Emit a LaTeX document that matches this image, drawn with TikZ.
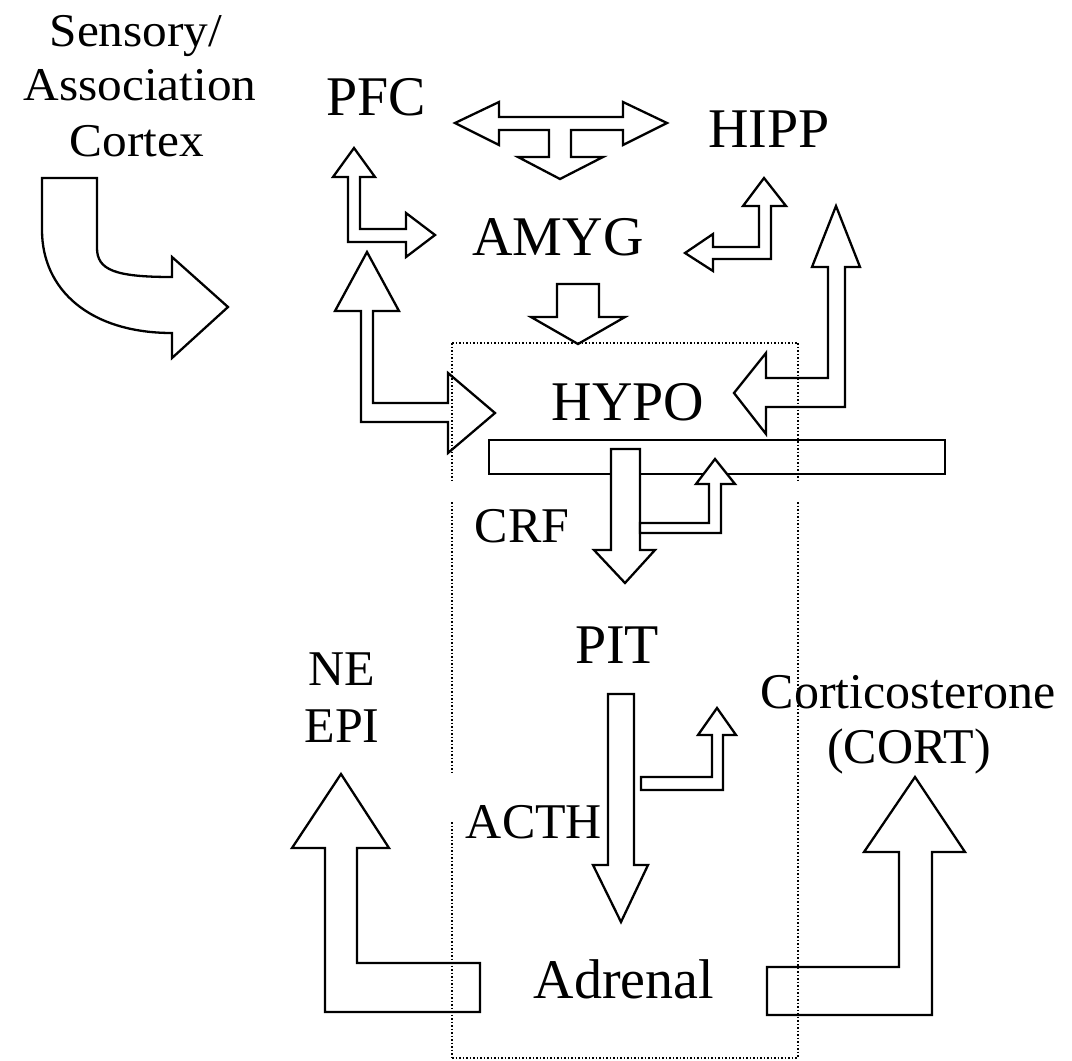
\documentclass[tikz,border=0pt]{standalone}
\usepackage{fontspec}
\setmainfont{Liberation Serif}
\begin{document}
\begin{tikzpicture}[x=1pt,y=-1pt,
  blk/.style={draw=black, fill=white, line width=2.3pt, line join=miter},
  bigtxt/.style={font=\fontsize{56}{60}\selectfont, inner sep=0pt, anchor=base},
  smalltxt/.style={font=\fontsize{50}{56}\selectfont, inner sep=0pt, anchor=base},
  cortxt/.style={font=\fontsize{47}{54}\selectfont, inner sep=0pt, anchor=base, xscale=1.05},
  dotline/.style={line width=1.5pt, dash pattern=on 1.5pt off 2pt}]
\path[use as bounding box] (0,0) rectangle (1072,1061);

% median eminence bar
\draw[blk] (489,440) rectangle (945,474);

% Sensory/Association cortex curved arrow
\draw[blk] (42,178) -- (97,178) -- (97,248) .. controls (97,270) and (115,277) .. (172,277)
  -- (172,257) -- (228,307) -- (172,358) -- (172,333)
  .. controls (90,333) and (42,290) .. (42,230) -- cycle;

% PFC <-> AMYG
\draw[blk] (348,242) -- (348,177) -- (333,177) -- (354,148) -- (375,177) -- (360,177)
  -- (360,229) -- (406,229) -- (406,213) -- (435,235) -- (406,257) -- (406,242) -- cycle;

% PFC <-> HIPP with branch to AMYG
\draw[blk] (455,123) -- (499,102) -- (499,117) -- (623,117) -- (623,102) -- (667,123)
  -- (623,145) -- (623,130) -- (571,130) -- (571,157) -- (603,157) -- (560,179)
  -- (518,157) -- (549,157) -- (549,130) -- (499,130) -- (499,145) -- cycle;

% HIPP <-> AMYG
\draw[blk] (759,206) -- (743,206) -- (764,178) -- (786,206) -- (771,206) -- (771,259)
  -- (713,259) -- (713,271) -- (685,253) -- (713,234) -- (713,247) -- (759,247) -- cycle;

% HIPP <-> HYPO
\draw[blk] (828,267) -- (812,267) -- (836,206) -- (860,267) -- (845,267) -- (845,407)
  -- (766,407) -- (766,434) -- (734,393) -- (766,353) -- (766,378) -- (828,378) -- cycle;

% AMYG -> HYPO
\draw[blk] (557,284) -- (599,284) -- (599,317) -- (625,317) -- (578,344) -- (531,317)
  -- (557,317) -- cycle;

% PFC <-> HYPO
\draw[blk] (361,311) -- (335,311) -- (367,252) -- (399,311) -- (373,311) -- (373,403)
  -- (448,403) -- (448,373) -- (495,413) -- (448,453) -- (448,422) -- (361,422) -- cycle;

% CRF arrow
\draw[blk] (611,449) -- (640,449) -- (640,550) -- (655,550) -- (625,583) -- (594,550)
  -- (611,550) -- cycle;
% CRF feedback
\draw[blk] (640,523) -- (709,523) -- (709,484) -- (696,484) -- (715,459) -- (735,484)
  -- (721,484) -- (721,533) -- (640,533) -- cycle;

% ACTH arrow
\draw[blk] (608,694) -- (634,694) -- (634,865) -- (648,865) -- (621,922) -- (593,865)
  -- (608,865) -- cycle;
% ACTH feedback
\draw[blk] (641,777) -- (712,777) -- (712,735) -- (698,735) -- (717,708) -- (736,735)
  -- (723,735) -- (723,790) -- (641,790) -- cycle;

% Adrenal -> NE/EPI
\draw[blk] (325,848) -- (292,848) -- (341,774) -- (389,848) -- (357,848) -- (357,963)
  -- (480,963) -- (480,1012) -- (325,1012) -- cycle;

% Adrenal -> CORT
\draw[blk] (767,967) -- (899,967) -- (899,852) -- (864,852) -- (915,777) -- (965,852)
  -- (932,852) -- (932,1015) -- (767,1015) -- cycle;

% labels
\node[cortxt] (sens1) at (136,46) {Sensory/};
\node[cortxt] (sens2) at (140,100) {Association};
\node[cortxt] (sens3) at (137,156) {Cortex};
\node[bigtxt] (pfc) at (376,115) {PFC};
\node[bigtxt] (hipp) at (769,147) {HIPP};
\node[bigtxt] (amyg) at (558,255) {AMYG};
\node[bigtxt] (hypo) at (628,420) {HYPO};
\node[smalltxt] (crf) at (522,542) {CRF};
\node[bigtxt] (pit) at (617,663) {PIT};
\node[smalltxt] (ne) at (342,685) {NE};
\node[smalltxt] (epi) at (342,742) {EPI};
\node[smalltxt] (acth) at (534,838) {ACTH};
\node[bigtxt] (adrenal) at (624,998) {Adrenal};
\node[smalltxt] (cort1) at (908,708) {Corticosterone};
\node[smalltxt] (cort2) at (909,763) {(CORT)};

% dotted HPA box
\draw[dotline] (452,343) -- (798,343);
\draw[dotline] (452,1058) -- (798,1058);
\draw[dotline] (452,343) -- (452,481);
\draw[dotline] (452,502) -- (452,772);
\draw[dotline] (452,822) -- (452,1058);
\draw[dotline] (798,343) -- (798,481);
\draw[dotline] (798,502) -- (798,1058);
\end{tikzpicture}
\end{document}
